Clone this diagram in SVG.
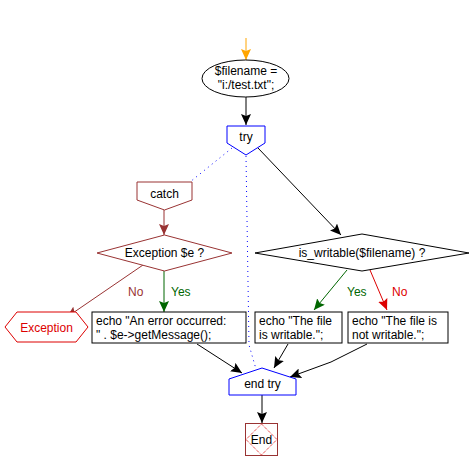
<svg xmlns="http://www.w3.org/2000/svg" width="470" height="470" viewBox="0 0 470 470">
<style>
text{font-family:"Liberation Sans",Arial,sans-serif;font-size:12px;fill:#000}
.c{text-anchor:middle}
.ln{fill:none;stroke-width:1}
.shape{fill:#fff;stroke-width:1}
</style>
<defs>
<marker id="aBlack" markerUnits="userSpaceOnUse" markerWidth="12" markerHeight="10" refX="11" refY="5" orient="auto"><path d="M0,0 L11,5 L0,10 L2,5 z" fill="#000"/></marker>
<marker id="aOrange" markerUnits="userSpaceOnUse" markerWidth="12" markerHeight="10" refX="11" refY="5" orient="auto"><path d="M0,0 L11,5 L0,10 L2,5 z" fill="#ffa500"/></marker>
<marker id="aDred" markerUnits="userSpaceOnUse" markerWidth="12" markerHeight="10" refX="11" refY="5" orient="auto"><path d="M0,0 L11,5 L0,10 L2,5 z" fill="#993333"/></marker>
<marker id="aGreen" markerUnits="userSpaceOnUse" markerWidth="12" markerHeight="10" refX="11" refY="5" orient="auto"><path d="M0,0 L11,5 L0,10 L2,5 z" fill="#006600"/></marker>
<marker id="aRed" markerUnits="userSpaceOnUse" markerWidth="12" markerHeight="10" refX="11" refY="5" orient="auto"><path d="M0,0 L11,5 L0,10 L2,5 z" fill="#dd0000"/></marker>
</defs>
<g id="connectors">
<line class="ln" x1="246" y1="38" x2="246" y2="60" stroke="#ffa500" marker-end="url(#aOrange)"/>
<line class="ln" x1="246" y1="97" x2="246" y2="125" stroke="#000" marker-end="url(#aBlack)"/>
<line class="ln" x1="232" y1="148" x2="190" y2="182" stroke="#0000ff" stroke-dasharray="1,4"/>
<polyline class="ln" points="246,156 249,345 256,369" stroke="#0000ff" stroke-dasharray="1,4"/>
<line class="ln" x1="258" y1="148" x2="341" y2="235" stroke="#000" marker-end="url(#aBlack)"/>
<line class="ln" x1="164" y1="210" x2="164" y2="235" stroke="#993333" marker-end="url(#aDred)"/>
<line class="ln" x1="143" y1="265" x2="67" y2="317" stroke="#993333" marker-end="url(#aDred)"/>
<line class="ln" x1="164" y1="271" x2="164" y2="312" stroke="#006600" marker-end="url(#aGreen)"/>
<line class="ln" x1="347" y1="270" x2="314" y2="310" stroke="#006600" marker-end="url(#aGreen)"/>
<line class="ln" x1="370" y1="270" x2="387" y2="310" stroke="#dd0000" marker-end="url(#aRed)"/>
<line class="ln" x1="197" y1="344" x2="242" y2="373" stroke="#000" marker-end="url(#aBlack)"/>
<line class="ln" x1="288" y1="344" x2="274" y2="368" stroke="#000" marker-end="url(#aBlack)"/>
<line class="ln" x1="367" y1="344" x2="331" y2="362" stroke="#000"/>
<line class="ln" x1="331" y1="362" x2="290" y2="377" stroke="#000" marker-end="url(#aBlack)"/>
<line class="ln" x1="262" y1="395" x2="262" y2="423" stroke="#000" marker-end="url(#aBlack)"/>
<text x="128" y="296" fill="#993333" style="fill:#993333">No</text>
<text x="171" y="296" style="fill:#006600">Yes</text>
<text x="347" y="296" style="fill:#006600">Yes</text>
<text x="392" y="296" style="fill:#dd0000">No</text>
</g>
<g id="start">
<ellipse class="shape" cx="245.5" cy="78.5" rx="43.5" ry="18.5" stroke="#000"/>
<text class="c" x="246" y="75">$filename =</text>
<text class="c" x="246" y="89">"i:/test.txt";</text>
</g>
<g id="try">
<polygon class="shape" points="227,126 265,126 265,143 246,155 227,143" stroke="#0000ff"/>
<text class="c" x="246" y="141">try</text>
</g>
<g id="catch">
<polygon class="shape" points="137,182 192,182 192,200 164.5,210 137,200" stroke="#993333"/>
<text class="c" x="164.5" y="198">catch</text>
</g>
<g id="exceptionDecision">
<polygon class="shape" points="97,253 164.5,235 232,253 164.5,271" stroke="#993333"/>
<text class="c" x="164.5" y="257">Exception $e ?</text>
</g>
<g id="exception">
<polygon class="shape" points="5,327 17,312 76,312 88,327 76,342 17,342" stroke="#dd0000"/>
<text class="c" x="46.5" y="332" style="fill:#dd0000">Exception</text>
</g>
<g id="errorEcho">
<rect class="shape" x="92" y="312" width="154" height="31" stroke="#000"/>
<text x="96" y="325">echo "An error occurred:</text>
<text x="96" y="339">" . $e-&gt;getMessage();</text>
</g>
<g id="writableDecision">
<polygon class="shape" points="255,253 362,234 469,253 362,271" stroke="#000"/>
<text class="c" x="362" y="257">is_writable($filename) ?</text>
</g>
<g id="writableYes">
<rect class="shape" x="255" y="312" width="87" height="31" stroke="#000"/>
<text x="259" y="325">echo "The file</text>
<text x="259" y="339">is writable.";</text>
</g>
<g id="writableNo">
<rect class="shape" x="348" y="312" width="100" height="31" stroke="#000"/>
<text x="352" y="325">echo "The file is</text>
<text x="352" y="339">not writable.";</text>
</g>
<g id="endTry">
<polygon class="shape" points="229,379 262,368 296,379 296,395 229,395" stroke="#0000ff"/>
<text class="c" x="262.5" y="388">end try</text>
</g>
<g id="end">
<rect class="shape" x="245.5" y="423.5" width="32" height="32" stroke="#993333"/>
<polygon points="246,439.5 261.5,424 277,439.5 261.5,455" fill="none" stroke="#dd0000" stroke-dasharray="1,1"/>
<text class="c" x="261.5" y="444">End</text>
</g>
</svg>
